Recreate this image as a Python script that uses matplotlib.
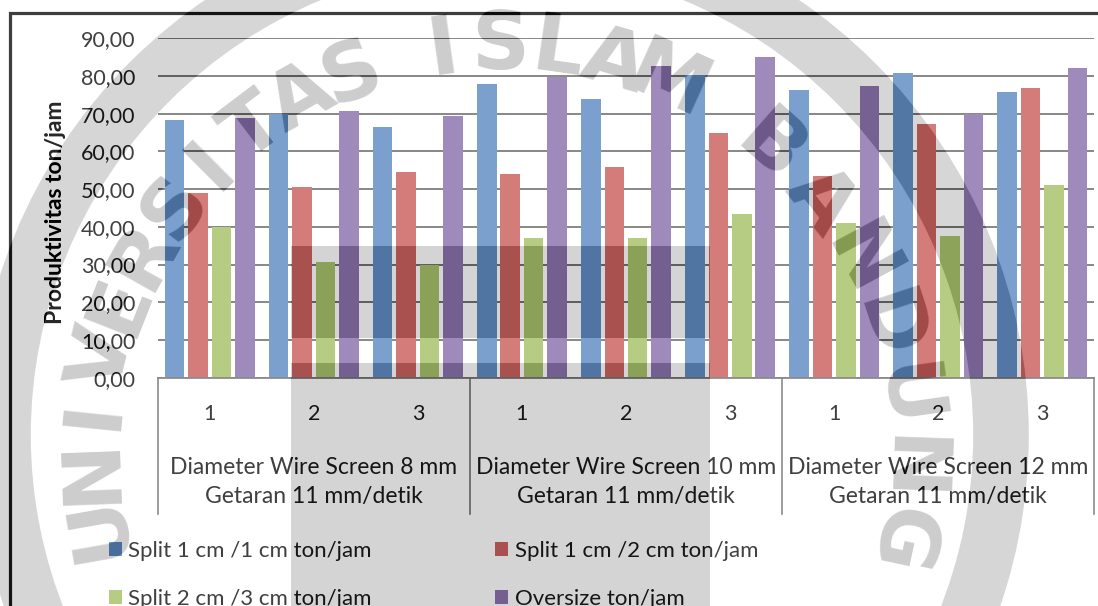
import matplotlib
matplotlib.use('Agg')
import matplotlib.pyplot as plt
import numpy as np
from matplotlib.patches import Rectangle, Circle
from matplotlib.ticker import FuncFormatter

plt.rcParams['font.family'] = ['Lato', 'DejaVu Sans']

W, H, DPI = 1098, 606, 100

runs = ['1', '2', '3', '1', '2', '3', '1', '2', '3']
screens = ['Diameter Wire Screen 8 mm', 'Diameter Wire Screen 10 mm', 'Diameter Wire Screen 12 mm']
vibration = 'Getaran 11 mm/detik'
series_names = ['Split 1 cm /1 cm ton/jam', 'Split 1 cm /2 cm ton/jam',
                'Split 2 cm /3 cm ton/jam', 'Oversize ton/jam']
split_1_1 = [68.3, 69.9, 66.4, 77.8, 73.8, 80.2, 76.3, 80.8, 75.8]
split_1_2 = [49.0, 50.5, 54.5, 53.9, 55.9, 64.8, 53.5, 67.3, 76.7]
split_2_3 = [39.9, 30.6, 29.9, 37.0, 37.0, 43.5, 41.0, 37.5, 51.0]
oversize = [68.9, 70.8, 69.3, 79.8, 82.7, 85.1, 77.3, 69.9, 82.2]
colors = ['#7BA0CD', '#D47C7A', '#B5CC82', '#9E8BBB']

txt = '#404040'

# ---- chart ----
fig = plt.figure(figsize=(W / DPI, H / DPI), dpi=DPI)
ax = fig.add_axes([157.7 / W, 1 - 377.6 / H, 936.6 / W, 339.3 / H])

x = np.arange(len(runs))
bars = []
for vals, off, c, name in zip([split_1_1, split_1_2, split_2_3, oversize],
                              [-1.5, -0.5, 0.5, 1.5], colors, series_names):
    bars.append(ax.bar(x + off * 0.225, vals, width=0.187, color=c, label=name, zorder=2))

ax.set_xlim(-0.5, 8.5)
ax.set_ylim(0, 90)
ax.set_yticks(np.arange(0, 91, 10))
ax.yaxis.set_major_formatter(FuncFormatter(lambda v, p: f'{v:.2f}'.replace('.', ',')))
ax.yaxis.grid(True, color='#878787', lw=1.4)
ax.set_axisbelow(True)
for s in ['left', 'right', 'top']:
    ax.spines[s].set_visible(False)
ax.spines['bottom'].set_color('#8c8c8c')
ax.spines['bottom'].set_linewidth(1.3)
ax.tick_params(axis='y', length=0, pad=16, labelsize=15.5, labelcolor=txt)
ax.set_xticks(x, runs)
ax.tick_params(axis='x', length=0, pad=19, labelsize=15.5, labelcolor=txt)

# multi-level category axis
xt = ax.get_xaxis_transform()
depth = -(514 - 377.6) / 339.3
for sx in [-0.5, 2.5, 5.5, 8.5]:
    ax.plot([sx, sx], [0, depth], transform=xt, clip_on=False, color='#8c8c8c', lw=1.2)
for gx, name in zip([1, 4, 7], screens):
    ax.text(gx, -(467 - 377.6) / 339.3, name, transform=xt, ha='center', va='center',
            fontsize=16.5, color=txt)
    ax.text(gx, -(497 - 377.6) / 339.3, vibration, transform=xt, ha='center', va='center',
            fontsize=16.5, color=txt)

fig.text(56 / W, 1 - 212 / H, 'Produktivitas ton/jam', rotation=90, ha='center', va='center',
         fontsize=16.5, fontweight='bold', color='#262626')

fig.legend(handles=[bars[0], bars[2], bars[1], bars[3]],
           labels=[series_names[0], series_names[2], series_names[1], series_names[3]],
           ncol=2, loc='upper left', bbox_to_anchor=(109 / W, 1 - 541 / H), frameon=False,
           fontsize=16, handlelength=0.57, handleheight=0.57, handletextpad=0.3,
           columnspacing=5.56, labelspacing=1.25, borderpad=0, borderaxespad=0, labelcolor=txt)

fig.add_artist(Rectangle((10 / W, -0.05), 1095 / W, (606 - 13) / H + 0.05,
                         transform=fig.transFigure, fill=False, ec='#3d3d3d', lw=2.3))

# ---- watermark layer (burned onto the chart below) ----
wm = plt.figure(figsize=(W / DPI, H / DPI), dpi=DPI)
wa = wm.add_axes([0, 0, 1, 1])
wa.set_xlim(0, W)
wa.set_ylim(H, 0)
wa.axis('off')
wa.add_patch(Circle((502, 435), 499, fill=False, ec='#d6d6d6', lw=40))
wa.add_patch(Rectangle((291, 246), 419, 92, color='#d4d4d4', lw=0))
wa.add_patch(Rectangle((291, 363), 419, 260, color='#d4d4d4', lw=0))
cx, cy = 500, 455
for word, a0, a1 in [('UNIVERSITAS', 190, 111.3), ('ISLAM', 98, 65.7), ('BANDUNG', 48.6, -12.1)]:
    for ang, ch in zip(np.linspace(a0, a1, len(word)), word):
        t = np.radians(ang)
        wa.text(cx + 386 * np.cos(t), cy - 386 * np.sin(t), ch, rotation=ang - 90,
                rotation_mode='anchor', ha='center', va='baseline', fontsize=58,
                fontweight='bold', color='#cdcdcd', family='DejaVu Sans')

fig.canvas.draw()
wm.canvas.draw()
base = np.asarray(fig.canvas.buffer_rgba())[..., :3].astype(np.int16)
logo = np.asarray(wm.canvas.buffer_rgba())[..., :3].astype(np.int16)
hh = min(base.shape[0], logo.shape[0])
ww = min(base.shape[1], logo.shape[1])
out = np.clip(base[:hh, :ww] + logo[:hh, :ww] - 255, 0, 255).astype(np.uint8)
plt.imsave('out.png', out)
